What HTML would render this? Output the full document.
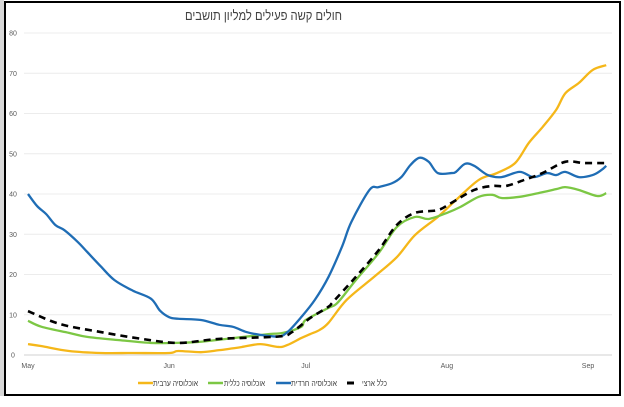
<!DOCTYPE html>
<html><head><meta charset="utf-8"><style>
html,body{margin:0;padding:0;background:#fff;}
body{width:624px;height:407px;position:relative;overflow:hidden;font-family:"Liberation Sans","Noto Sans CJK SC",sans-serif;}
</style></head><body>
<div style="position:absolute;left:0;top:0;width:4px;height:396px;background:#d8d8d8"></div>
<div style="position:absolute;left:4px;top:1px;width:613px;height:391px;border:2px solid #000;"></div>
<svg id="chart" width="624" height="407" style="position:absolute;left:0;top:0" xmlns="http://www.w3.org/2000/svg">
<text x="185" y="20" textLength="157" lengthAdjust="spacingAndGlyphs" font-size="13.5" fill="#404040" font-family="Liberation Sans, Noto Sans CJK SC, sans-serif">חולים קשה פעילים למליון תושבים</text>
<g id="grid"></g><g id="series"></g><g id="legend"></g>
</svg>
<script>
const yTicks=[0,10,20,30,40,50,60,70,80];
const monthLabels=["May","Jun","Jul","Aug","Sep"];
const monthDays=[0,31,61,92,123];
const arabDays=[0,3,9,16,23,31,33,38,42,47,51,55,57,60,62,64,66,70,76,81,85,90,94,99,103,107,110,113,116,118,121,124,127];
const arabVals=[2.7,2.2,1,0.5,0.5,0.5,1,0.7,1.2,2,2.7,2,2.5,4.2,5.2,6.2,8,13.7,19.4,24.3,29.8,34.3,38.5,43.5,45.2,47.7,52.7,56.6,60.9,65,67.6,70.8,72];
const generalDays=[0,3,9,13,20,27,32,38,45,53,56,60,61,66,68,72,77,81,85,88,92,95,99,102,104,108,112,116,118,121,125,127];
const generalVals=[8.5,7,5.5,4.5,3.7,3,3,3.3,4.2,5.2,5.5,7,8.7,11.7,13,18.6,25.3,31.8,34.3,33.8,35.3,36.8,39.3,39.8,39,39.3,40.2,41.2,41.7,41,39.5,40.2];
const harediDays=[0,2,4,6,8,11,13,16,19,23,27,29,31,33,38,42,45,48,51,55,57,60,63,66,69,71,75,77,80,82,84,86,88,90,93,94,96,98,101,104,108,111,114,116,118,121,124,126,127];
const harediVals=[40,37,35,32.3,31,28,25.6,22,18.6,16,14,11,9.4,9,8.7,7.5,7,5.7,5,4.6,5.7,9.4,13.7,19.4,27,33,41,41.7,42.7,44.2,47.2,49,48,45.2,45.2,45.5,47.5,47,44.7,44.2,45.5,44.2,45.2,44.7,45.5,44.2,44.7,46,47];
const nationalDays=[0,7,16,25,33,42,55,58,62,66,67,72,77,81,85,90,93,98,102,105,109,113,118,122,127];
const nationalVals=[10.9,7.7,5.7,4,3,4,4.6,5.7,9.2,12,13.2,19.4,26,32.3,35.3,36,37.8,41,42,42,43.5,45.2,48,47.7,47.7];

const NS="http://www.w3.org/2000/svg";
const x=d=>28+d*4.553;
const y=v=>355-v*4.025;
const grid=document.getElementById('grid');
yTicks.forEach(t=>{
  const l=document.createElementNS(NS,'line');
  
  
  l.setAttribute('x1',24);l.setAttribute('x2',612);l.setAttribute('y1',y(t));l.setAttribute('y2',y(t));
  l.setAttribute('stroke',t===0?'#d0d0d0':'#ececec');l.setAttribute('stroke-width',1);
  grid.appendChild(l);
  const tx=document.createElementNS(NS,'text');
  
  
  tx.setAttribute('x',13);tx.setAttribute('y',y(t)+2.5);tx.setAttribute('font-size',7);tx.setAttribute('fill','#595959');tx.setAttribute('text-anchor','middle');
  tx.textContent=t;grid.appendChild(tx);
});
monthLabels.forEach((m,i)=>{
  const tx=document.createElementNS(NS,'text');
  
  
  tx.setAttribute('x',x(monthDays[i]));tx.setAttribute('y',368);tx.setAttribute('font-size',7);tx.setAttribute('fill','#595959');tx.setAttribute('text-anchor','middle');
  tx.textContent=m;grid.appendChild(tx);
});
function pathD(days,vals){
  const p=days.map((d,i)=>[x(d),y(vals[i])]);
  let s='M'+p[0][0]+','+p[0][1];
  for(let i=0;i<p.length-1;i++){
    const p0=p[i-1]||p[i],p1=p[i],p2=p[i+1],p3=p[i+2]||p2;
    const c1=[p1[0]+(p2[0]-p0[0])/6,p1[1]+(p2[1]-p0[1])/6];
    const c2=[p2[0]-(p3[0]-p1[0])/6,p2[1]-(p3[1]-p1[1])/6];
    s+=' C'+c1+' '+c2+' '+p2;
  }
  return s;
}
const ser=document.getElementById('series');
function addLine(name,days,vals,color,dash){
  const pa=document.createElementNS(NS,'path');
  
  
  pa.setAttribute('d',pathD(days,vals));pa.setAttribute('fill','none');pa.setAttribute('stroke',color);
  pa.setAttribute('stroke-width',dash?2.6:2.3);pa.setAttribute('stroke-linejoin','round');
  if(dash)pa.setAttribute('stroke-dasharray','7,5');
  ser.appendChild(pa);
}
addLine('arab-line',arabDays,arabVals,'#f5b719',false);
addLine('general-line',generalDays,generalVals,'#7cc744',false);
addLine('haredi-line',harediDays,harediVals,'#1f6db5',false);
addLine('national-line',nationalDays,nationalVals,'#000',true);
const lg=document.getElementById('legend');
const items=[['legend-arab','#f5b719',138,153,45,'אוכלוסיה ערבית',false],['legend-general','#7cc744',208,224,41,'אוכלוסיה כללית',false],['legend-haredi','#1f6db5',276,291,46,'אוכלוסיה חרדית',false],['legend-national','#000',347,362,25,'כלל ארצי',true]];
items.forEach(it=>{
  const g=document.createElementNS(NS,'g');
  
  
  const l=document.createElementNS(NS,'line');
  l.setAttribute('x1',it[2]);l.setAttribute('x2',it[6]?it[2]+7:it[2]+15);l.setAttribute('y1',383);l.setAttribute('y2',383);
  l.setAttribute('stroke',it[1]);l.setAttribute('stroke-width',it[6]?3:2.5);
  g.appendChild(l);
  const t=document.createElementNS(NS,'text');
  t.setAttribute('x',it[3]);t.setAttribute('y',386);t.setAttribute('font-size',8);t.setAttribute('fill','#404040');
  t.setAttribute('textLength',it[4]);t.setAttribute('lengthAdjust','spacingAndGlyphs');
  t.setAttribute('font-family','Liberation Sans, Noto Sans CJK SC, sans-serif');
  t.textContent=it[5];g.appendChild(t);
  lg.appendChild(g);
});
</script>
</body></html>
